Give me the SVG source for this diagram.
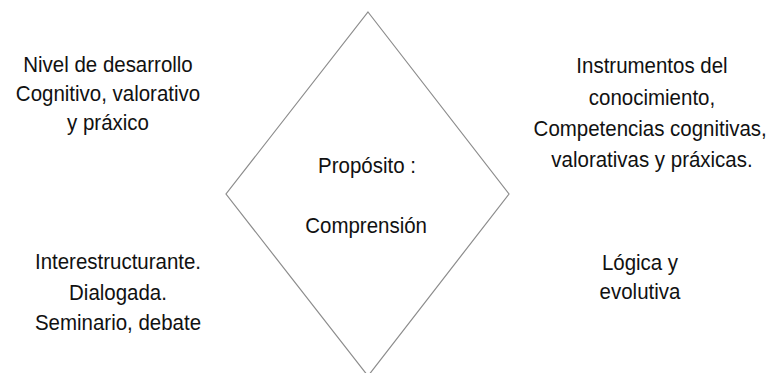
<svg xmlns="http://www.w3.org/2000/svg" width="777" height="373" viewBox="0 0 777 373">
<style>
.t{font-family:"Liberation Sans",Arial,sans-serif;font-size:22.5px;fill:#111;text-anchor:middle}
.shape{fill:none;stroke:#8c8c8c;stroke-width:1.2}
</style>
<rect width="777" height="373" fill="#fff"/>
<g id="diamond">
<polygon class="shape" points="368,12 509,194 368,376 226,194"/>
<g transform="translate(367,0) scale(0.91,1)">
<text class="t" x="0" y="173">Propósito :</text>
<text class="t" x="-1" y="233">Comprensión</text>
</g>
</g>
<g id="top-left" transform="translate(108,0) scale(0.91,1)">
<text class="t" x="0" y="72">Nivel de desarrollo</text>
<text class="t" x="0" y="101">Cognitivo, valorativo</text>
<text class="t" x="0" y="130">y práxico</text>
</g>
<g id="top-right" transform="translate(652,0) scale(0.91,1)">
<text class="t" x="0" y="73">Instrumentos del</text>
<text class="t" x="0" y="105">conocimiento,</text>
<text class="t" x="-2" y="136">Competencias cognitivas,</text>
<text class="t" x="0" y="167">valorativas y práxicas.</text>
</g>
<g id="bottom-left" transform="translate(118,0) scale(0.91,1)">
<text class="t" x="0" y="269">Interestructurante.</text>
<text class="t" x="0" y="300">Dialogada.</text>
<text class="t" x="0" y="330">Seminario, debate</text>
</g>
<g id="bottom-right" transform="translate(640,0) scale(0.91,1)">
<text class="t" x="0" y="270">Lógica y</text>
<text class="t" x="0" y="299">evolutiva</text>
</g>
<g id="connectors"></g>
</svg>
